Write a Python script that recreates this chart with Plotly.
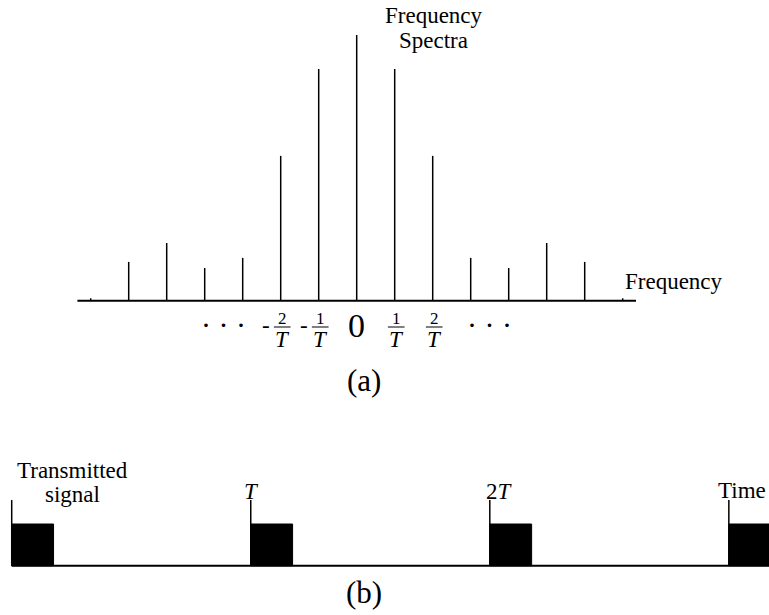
import plotly.graph_objects as go

# ---------------- data ----------------
# (a) frequency spectrum: harmonic index k (multiples of 1/T) and line amplitudes
harmonics = [-7, -6, -5, -4, -3, -2, -1, 0, 1, 2, 3, 4, 5, 6, 7]
amplitudes = [0.009, 0.146, 0.217, 0.123, 0.161, 0.545, 0.872, 1.0,
              0.872, 0.545, 0.161, 0.123, 0.217, 0.146, 0.009]
freq_axis_extent = [-7.35, 7.35]

# tick labels under the spectrum: (position, numerator, sign)
frac_ticks = [(-2, "2", "-"), (-1, "1", "-"), (1, "1", ""), (2, "2", "")]
zero_tick = 0
dots_positions = [-3.5, 3.5]

# (b) transmitted pulse train (time in units of T)
pulse_starts = [0, 1, 2, 3]
pulse_width = 0.175
pulse_height = 1.0
marker_height = 1.575
time_axis_extent = [0, 3.3]
pulse_labels = [(1, "<i>T</i>"), (2, "2<i>T</i>")]

FONT = "Liberation Serif, Times New Roman, serif"
W, H = 769, 615
LAB = 23

fig = go.Figure()

# spectrum lines
sx, sy = [], []
for k, a in zip(harmonics, amplitudes):
    sx += [k, k, None]
    sy += [0, a, None]
fig.add_trace(go.Scatter(x=sx, y=sy, mode="lines",
                         line=dict(color="black", width=1.5),
                         xaxis="x", yaxis="y", hoverinfo="skip"))
# frequency baseline
fig.add_trace(go.Scatter(x=freq_axis_extent, y=[0, 0], mode="lines",
                         line=dict(color="black", width=2),
                         xaxis="x", yaxis="y", hoverinfo="skip"))

# pulses
for s in pulse_starts:
    fig.add_trace(go.Scatter(
        x=[s, s + pulse_width, s + pulse_width, s, s],
        y=[0, 0, pulse_height, pulse_height, 0],
        mode="lines", fill="toself", fillcolor="black",
        line=dict(color="black", width=1),
        xaxis="x2", yaxis="y2", hoverinfo="skip"))
# time baseline
fig.add_trace(go.Scatter(x=time_axis_extent, y=[0, 0], mode="lines",
                         line=dict(color="black", width=2),
                         xaxis="x2", yaxis="y2", hoverinfo="skip"))
# period markers
mx, my = [], []
for s in pulse_starts:
    mx += [s, s, None]
    my += [0, marker_height, None]
fig.add_trace(go.Scatter(x=mx, y=my, mode="lines",
                         line=dict(color="black", width=1.5),
                         xaxis="x2", yaxis="y2", hoverinfo="skip"))

def py(pix):
    return 1 - pix / H

def px(pix):
    return pix / W

ann = []
def text(x, y, t, size, xref="paper", xanchor="center", yanchor="middle"):
    ann.append(dict(x=x, y=y, xref=xref, yref="paper", text=t, showarrow=False,
                    font=dict(family=FONT, size=size, color="black"),
                    xanchor=xanchor, yanchor=yanchor))

# top labels
text(px(434), py(16), "Frequency", LAB)
text(px(433), py(41), "Spectra", LAB)
text(px(623), py(281), "Frequency", LAB, xanchor="left")

# fraction tick labels
shapes = []
for pos, num, sign in frac_ticks:
    text(pos + 0.04, py(318), num, 17, xref="x")
    text(pos + 0.04, py(339), "<i>T</i>", 23, xref="x")
    shapes.append(dict(type="line", xref="x", yref="paper",
                       x0=pos - 0.18, x1=pos + 0.26, y0=py(327), y1=py(327),
                       line=dict(color="black", width=1)))
    if sign:
        text(pos - 0.40, py(325), "-", 23, xref="x")
text(zero_tick, py(326), "0", 34, xref="x")
for d in dots_positions:
    text(d, py(324), "· · ·", 30, xref="x")

text(px(364), py(380), "(a)", 31)

# bottom labels
text(px(72), py(470), "Transmitted", LAB)
text(px(72), py(494), "signal", LAB)
for s, lab in pulse_labels:
    text(s + (0.04 if s == 2 else 0.005), py(491), lab, LAB, xref="x2")
text(px(742), py(490), "Time", LAB)
text(px(364), py(592), "(b)", 31)

ax_common = dict(visible=False, showgrid=False, zeroline=False, fixedrange=True)
fig.update_layout(
    width=W, height=H,
    margin=dict(l=0, r=0, t=0, b=0),
    paper_bgcolor="white", plot_bgcolor="white",
    showlegend=False,
    xaxis=dict(domain=[0, 1], range=[-9.387, 10.850], anchor="y", **ax_common),
    yaxis=dict(domain=[1 - 410 / H, 1], range=[-0.4114, 1.1317], anchor="x", **ax_common),
    xaxis2=dict(domain=[0, 1], range=[-0.049, 3.168], anchor="y2", **ax_common),
    yaxis2=dict(domain=[0, 1 - 410 / H], range=[-1.182, 3.734], anchor="x2", **ax_common),
    annotations=ann,
    shapes=shapes,
)

fig.write_html("out.html", config={"displayModeBar": False},
               post_script="document.body.style.margin='0';document.body.style.overflow='hidden';")
